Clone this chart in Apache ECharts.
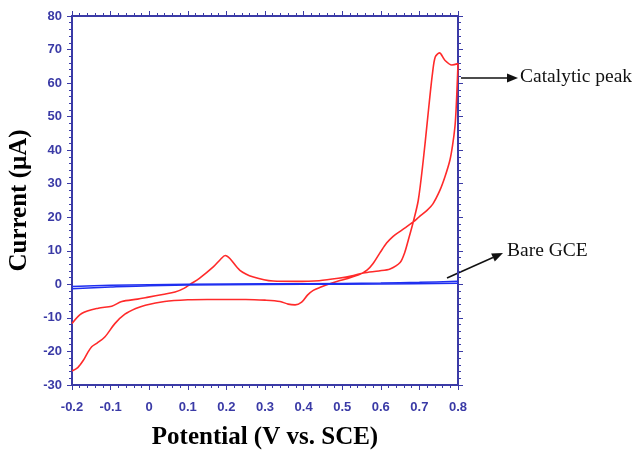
<!DOCTYPE html>
<html>
<head>
<meta charset="utf-8">
<script src="https://cdn.jsdelivr.net/npm/echarts@6/dist/echarts.min.js"></script>
<style>
html,body{margin:0;padding:0;background:#fff;}
#chart{width:633px;height:450px;}
</style>
</head>
<body>
<div id="chart"></div>
<script>
// Potential (V vs. SCE) / Current (uA) pairs
var modifiedForward = [[-0.2,-11.7],[-0.175,-8.7],[-0.132,-7.1],[-0.097,-6.5],[-0.071,-5.1],[-0.03,-4.4],[-0.002,-3.8],[0.035,-3.0],[0.067,-2.3],[0.09,-1.2],[0.106,0.0],[0.13,1.8],[0.166,5.2],[0.185,7.5],[0.197,8.6],[0.209,7.7],[0.235,4.2],[0.27,2.2],[0.321,1.0],[0.38,0.9],[0.44,1.1],[0.49,1.8],[0.529,2.6],[0.555,3.4],[0.595,4.0],[0.624,4.6],[0.65,6.5],[0.662,9.5],[0.671,13.1],[0.684,18.6],[0.697,25],[0.71,37],[0.72,48],[0.727,55.8],[0.734,63],[0.741,67.8],[0.752,69],[0.766,66.8],[0.784,65.4],[0.8,65.8]];
var modifiedReverse = [[0.8,65.8],[0.798,59.8],[0.795,52],[0.792,46.9],[0.786,41.5],[0.779,37],[0.766,32],[0.753,28],[0.735,24],[0.719,22],[0.7,20.2],[0.684,18.6],[0.665,17],[0.65,15.8],[0.632,14.3],[0.615,12.3],[0.6,9.8],[0.58,6.2],[0.565,4.3],[0.546,3.0],[0.512,1.7],[0.49,1.0],[0.468,0.2],[0.445,-0.8],[0.425,-1.8],[0.41,-3.2],[0.395,-5.3],[0.378,-6.1],[0.36,-5.9],[0.339,-5.1],[0.3,-4.7],[0.25,-4.5],[0.15,-4.5],[0.1,-4.6],[0.04,-5.1],[-0.01,-6.2],[-0.035,-7.2],[-0.063,-8.9],[-0.089,-11.7],[-0.115,-15.7],[-0.135,-17.5],[-0.149,-18.6],[-0.16,-20.5],[-0.171,-22.7],[-0.185,-24.8],[-0.2,-25.8]];
var bareForward = [[-0.2,-0.6],[-0.1,-0.3],[0.0,-0.1],[0.2,0.1],[0.4,0.2],[0.6,0.4],[0.7,0.6],[0.8,0.9]];
var bareReverse = [[0.8,0.3],[0.6,0.1],[0.4,0.0],[0.2,-0.1],[0.0,-0.4],[-0.1,-0.8],[-0.2,-1.3]];
var xTicks = {min:-0.2, max:0.8, interval:0.1};
var yTicks = {min:-30, max:80, interval:10};
var xTitle = 'Potential (V vs. SCE)';
var yTitle = 'Current (\u03bcA)';
var noteCatalytic = 'Catalytic peak';
var noteBare = 'Bare GCE';

var axisColor = '#3a3aa6';
var labelFont = "'Liberation Sans Narrow','Liberation Sans',Arial,sans-serif";
var serif = "'Liberation Serif','Times New Roman',serif";

function baseAxis(extra){
  var a = {
    type:'value',
    axisLine:{show:true,onZero:false,lineStyle:{color:axisColor,width:2}},
    axisTick:{show:true,inside:false,length:5,lineStyle:{color:axisColor,width:1}},
    minorTick:{show:true,splitNumber:5,length:3,lineStyle:{color:axisColor,width:1}},
    splitLine:{show:false},
    minorSplitLine:{show:false}
  };
  for (var k in extra) a[k]=extra[k];
  return a;
}
var chart = echarts.init(document.getElementById('chart'));
function arrow(x1,y1,x2,y2){
  var dx=x2-x1, dy=y2-y1, L=Math.sqrt(dx*dx+dy*dy), ux=dx/L, uy=dy/L;
  var hl=11, hw=4.5, bx=x2-ux*hl, by=y2-uy*hl;
  return [
    {type:'line',shape:{x1:x1,y1:y1,x2:bx,y2:by},style:{stroke:'#111',lineWidth:1.5}},
    {type:'polygon',shape:{points:[[x2,y2],[bx-uy*hw,by+ux*hw],[bx+uy*hw,by-ux*hw]]},style:{fill:'#111'}}
  ];
}
var gfx = [].concat(arrow(461,78,518,78), arrow(447,278,503,253), [
  {type:'text',left:520,top:67,style:{text:noteCatalytic,font:'19.5px '+serif,fill:'#111'}},
  {type:'text',left:507,top:241,style:{text:noteBare,font:'19.5px '+serif,fill:'#111'}}
]);

chart.setOption({
  animation:false,
  backgroundColor:'#fff',
  grid:{left:72,right:175,top:16,bottom:65,containLabel:false,outerBoundsMode:'none'},
  xAxis:[
    baseAxis({position:'bottom',min:xTicks.min,max:xTicks.max,interval:xTicks.interval,
      name:xTitle,nameLocation:'middle',nameGap:40,
      nameTextStyle:{fontFamily:serif,fontWeight:'bold',fontSize:25,color:'#000'},
      axisLabel:{margin:16,color:axisColor,fontFamily:labelFont,fontWeight:'bold',fontSize:13,
        formatter:function(v){return String(+v.toFixed(1));}}}),
    baseAxis({position:'top',min:xTicks.min,max:xTicks.max,interval:xTicks.interval,axisLabel:{show:false}})
  ],
  yAxis:[
    baseAxis({position:'left',min:yTicks.min,max:yTicks.max,interval:yTicks.interval,
      name:yTitle,nameLocation:'middle',nameGap:31,
      nameTextStyle:{fontFamily:serif,fontWeight:'bold',fontSize:25,color:'#000'},
      axisLabel:{margin:10,color:axisColor,fontFamily:labelFont,fontWeight:'bold',fontSize:13}}),
    baseAxis({position:'right',min:yTicks.min,max:yTicks.max,interval:yTicks.interval,axisLabel:{show:false}})
  ],
  series:[
    {type:'line',data:bareForward,showSymbol:false,smooth:0.3,lineStyle:{color:'#1f2ff0',width:1.5},z:3},
    {type:'line',data:bareReverse,showSymbol:false,smooth:0.3,lineStyle:{color:'#1f2ff0',width:1.5},z:3},
    {type:'line',data:modifiedForward.concat(modifiedReverse.slice(1)),showSymbol:false,smooth:0.3,lineStyle:{color:'#ff2a2a',width:1.6},z:2}
  ],
  graphic:gfx
});
</script>
</body>
</html>
